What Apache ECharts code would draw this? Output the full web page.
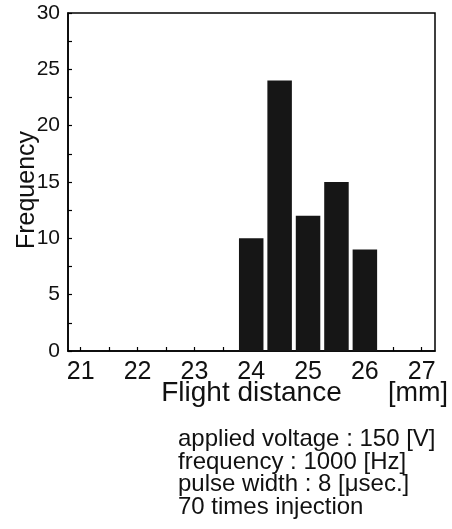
<!DOCTYPE html>
<html>
<head>
<meta charset="utf-8">
<script src="https://cdn.jsdelivr.net/npm/echarts@6/dist/echarts.min.js"></script>
<style>html,body{margin:0;padding:0;background:#fff;}#c{width:452px;height:529px;}</style>
</head>
<body>
<div id="c"></div>
<script>
// Data
var binCenters = [24, 24.5, 25, 25.5, 26];
var frequencies = [10, 24, 12, 15, 9];
var xTickLabels = [21, 22, 23, 24, 25, 26, 27];
var xTickMarks = [21, 21.5, 22, 22.5, 23, 23.5, 24, 24.5, 25, 25.5, 26, 26.5, 27];
var yTickLabels = [0, 5, 10, 15, 20, 25, 30];
var yTickMarks = [0, 2.5, 5, 7.5, 10, 12.5, 15, 17.5, 20, 22.5, 25, 27.5, 30];
var xTitle = 'Flight distance';
var xUnit = '[mm]';
var yTitle = 'Frequency';
var notes = ['applied voltage : 150 [V]', 'frequency : 1000 [Hz]', 'pulse width : 8 [\u03bcsec.]', '70 times injection'];

var FONT = '"Liberation Sans", Arial, Helvetica, sans-serif';
var INK = '#111';

var chart = echarts.init(document.getElementById('c'), null, {renderer: 'canvas'});
chart.setOption({
  animation: false,
  backgroundColor: '#fff',
  textStyle: {fontFamily: FONT, color: INK},
  grid: {left: 68, top: 13, right: 17, bottom: 178, show: true, borderColor: '#000', borderWidth: 1.5, backgroundColor: 'transparent'},
  xAxis: {
    type: 'value', min: 20.776, max: 27.234,
    axisLine: {show: true, lineStyle: {color: '#000', width: 1.5}},
    axisTick: {show: true, inside: true, length: 4, customValues: xTickMarks, lineStyle: {color: '#000', width: 1.2}},
    axisLabel: {customValues: xTickLabels, fontSize: 25, color: INK, fontFamily: FONT, margin: 9,
      formatter: function (v) { return String(Math.round(v)); }},
    splitLine: {show: false},
    name: xTitle, nameLocation: 'middle', nameGap: 28, nameMoveOverlap: false,
    nameTextStyle: {fontSize: 28, color: INK, fontFamily: FONT, verticalAlign: 'top'}
  },
  yAxis: {
    type: 'value', min: 0, max: 30,
    axisLine: {show: true, lineStyle: {color: '#000', width: 1.5}},
    axisTick: {show: true, inside: true, length: 4, customValues: yTickMarks, lineStyle: {color: '#000', width: 1.2}},
    axisLabel: {customValues: yTickLabels, fontSize: 21, color: INK, fontFamily: FONT, margin: 8},
    splitLine: {show: false}
  },
  series: [{
    type: 'bar',
    data: binCenters.map(function (x, i) { return [x, frequencies[i]]; }),
    barWidth: 24.5,
    itemStyle: {color: '#161616'},
    z: 1
  }],
  graphic: [
    {type: 'text', x: 27, y: 190, rotation: Math.PI / 2,
      style: {text: yTitle, font: '25px ' + FONT, fill: INK, align: 'center', verticalAlign: 'middle'}},
    {type: 'text', x: 448, y: 394,
      style: {text: xUnit, font: '27px ' + FONT, fill: INK, align: 'right', verticalAlign: 'middle'}},
    {type: 'text', x: 178, y: 428,
      style: {text: notes.join('\n'), font: '24px ' + FONT, fill: INK, align: 'left', verticalAlign: 'top', lineHeight: 22.6}}
  ]
});
</script>
</body>
</html>
